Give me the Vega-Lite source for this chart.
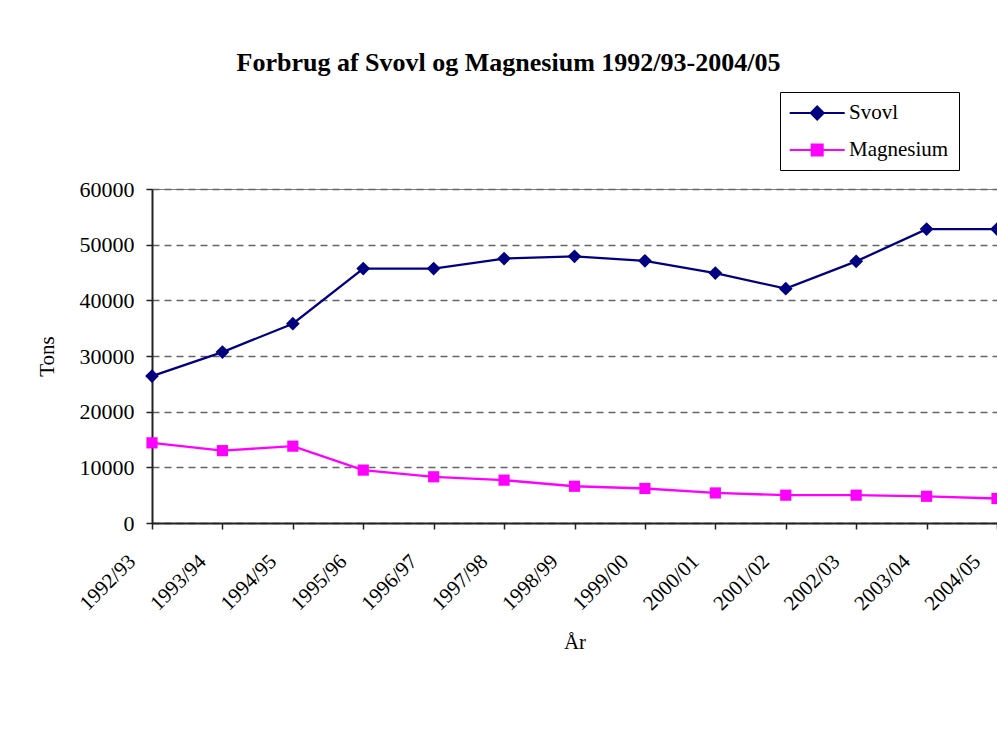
{
  "$schema": "https://vega.github.io/schema/vega-lite/v6.json",
  "autosize": {"type": "none"},
  "padding": {"left": 152, "top": 189, "right": 0, "bottom": 215},
  "width": 845,
  "height": 334,
  "background": "white",
  "title": {
    "text": "Forbrug af Svovl og Magnesium 1992/93-2004/05",
    "font": "Liberation Serif",
    "fontSize": 26,
    "fontWeight": "bold",
    "color": "black",
    "anchor": "middle",
    "dx": -66,
    "offset": 16
  },
  "config": {
    "view": {"stroke": "#808080", "strokeWidth": 1},
    "font": "Liberation Serif",
    "axis": {"labelFont": "Liberation Serif", "titleFont": "Liberation Serif"},
    "legend": {"labelFont": "Liberation Serif", "titleFont": "Liberation Serif"}
  },
  "data": {
    "values": [
      {"aar": "1992/93", "serie": "Svovl", "tons": 26400},
      {"aar": "1993/94", "serie": "Svovl", "tons": 30700},
      {"aar": "1994/95", "serie": "Svovl", "tons": 35800},
      {"aar": "1995/96", "serie": "Svovl", "tons": 45700},
      {"aar": "1996/97", "serie": "Svovl", "tons": 45700},
      {"aar": "1997/98", "serie": "Svovl", "tons": 47500},
      {"aar": "1998/99", "serie": "Svovl", "tons": 47900},
      {"aar": "1999/00", "serie": "Svovl", "tons": 47100},
      {"aar": "2000/01", "serie": "Svovl", "tons": 44900},
      {"aar": "2001/02", "serie": "Svovl", "tons": 42100},
      {"aar": "2002/03", "serie": "Svovl", "tons": 47000},
      {"aar": "2003/04", "serie": "Svovl", "tons": 52800},
      {"aar": "2004/05", "serie": "Svovl", "tons": 52800},
      {"aar": "1992/93", "serie": "Magnesium", "tons": 14400},
      {"aar": "1993/94", "serie": "Magnesium", "tons": 13000},
      {"aar": "1994/95", "serie": "Magnesium", "tons": 13800},
      {"aar": "1995/96", "serie": "Magnesium", "tons": 9500},
      {"aar": "1996/97", "serie": "Magnesium", "tons": 8300},
      {"aar": "1997/98", "serie": "Magnesium", "tons": 7700},
      {"aar": "1998/99", "serie": "Magnesium", "tons": 6600},
      {"aar": "1999/00", "serie": "Magnesium", "tons": 6200},
      {"aar": "2000/01", "serie": "Magnesium", "tons": 5400},
      {"aar": "2001/02", "serie": "Magnesium", "tons": 5000},
      {"aar": "2002/03", "serie": "Magnesium", "tons": 5000},
      {"aar": "2003/04", "serie": "Magnesium", "tons": 4800},
      {"aar": "2004/05", "serie": "Magnesium", "tons": 4400}
    ]
  },
  "encoding": {
    "x": {
      "field": "aar",
      "type": "ordinal",
      "sort": null,
      "scale": {"type": "point", "padding": 0},
      "axis": {
        "title": "År",
        "titleFont": "Liberation Serif",
        "titleFontSize": 21,
        "titleFontWeight": "normal",
        "titleColor": "black",
        "titlePadding": 18,
        "labelFont": "Liberation Serif",
        "labelFontSize": 21,
        "labelColor": "black",
        "labelAngle": -45,
        "labelAlign": "right",
        "labelBaseline": "middle",
        "labelOffset": -20,
        "labelPadding": 29,
        "labelOverlap": false,
        "domainColor": "#222222",
        "domainWidth": 2,
        "tickColor": "#222222",
        "tickWidth": 1.5,
        "tickSize": 6,
        "grid": false
      }
    },
    "y": {
      "field": "tons",
      "type": "quantitative",
      "scale": {"domain": [0, 60000], "nice": false},
      "axis": {
        "title": "Tons",
        "titleFont": "Liberation Serif",
        "titleFontSize": 21,
        "titleFontWeight": "normal",
        "titleColor": "black",
        "titlePadding": 22,
        "values": [0, 10000, 20000, 30000, 40000, 50000, 60000],
        "format": "d",
        "labelFont": "Liberation Serif",
        "labelFontSize": 22,
        "labelColor": "black",
        "labelPadding": 12,
        "domainColor": "#222222",
        "domainWidth": 2,
        "tickColor": "#222222",
        "tickWidth": 1.5,
        "tickSize": 6,
        "grid": true,
        "gridColor": "#666666",
        "gridWidth": 1.3,
        "gridDash": [7, 5]
      }
    },
    "color": {
      "field": "serie",
      "type": "nominal",
      "scale": {"domain": ["Svovl", "Magnesium"], "range": ["#000080", "#FF00FF"]},
      "legend": {
        "title": null,
        "orient": "none",
        "legendX": 628,
        "legendY": -97,
        "direction": "vertical",
        "strokeColor": "black",
        "fillColor": "white",
        "padding": 10,
        "symbolSize": 400,
        "symbolStrokeWidth": 2,
        "labelFont": "Liberation Serif",
        "labelFontSize": 21,
        "labelColor": "black",
        "labelOffset": 37,
        "rowPadding": 15,
        "encode": {
          "symbols": {
            "update": {
              "shape": {"signal": "datum.value === 'Svovl' ? 'M-1.13,0H4.37M1.62,-0.65L2.27,0L1.62,0.65L0.97,0Z' : 'M-1.13,0H4.37M1.07,-0.55H2.17V0.55H1.07Z'"},
              "fill": {"signal": "scale('color', datum.value)"},
              "stroke": {"signal": "scale('color', datum.value)"},
              "strokeWidth": {"value": 2},
              "opacity": {"value": 1}
            }
          }
        }
      }
    }
  },
  "layer": [
    {
      "mark": {"type": "line", "strokeWidth": 2.3}
    },
    {
      "transform": [{"filter": "datum.serie === 'Svovl'"}],
      "mark": {"type": "point", "filled": true, "opacity": 1, "shape": "diamond", "size": 190}
    },
    {
      "transform": [{"filter": "datum.serie === 'Magnesium'"}],
      "mark": {"type": "point", "filled": true, "opacity": 1, "shape": "square", "size": 125}
    }
  ]
}
